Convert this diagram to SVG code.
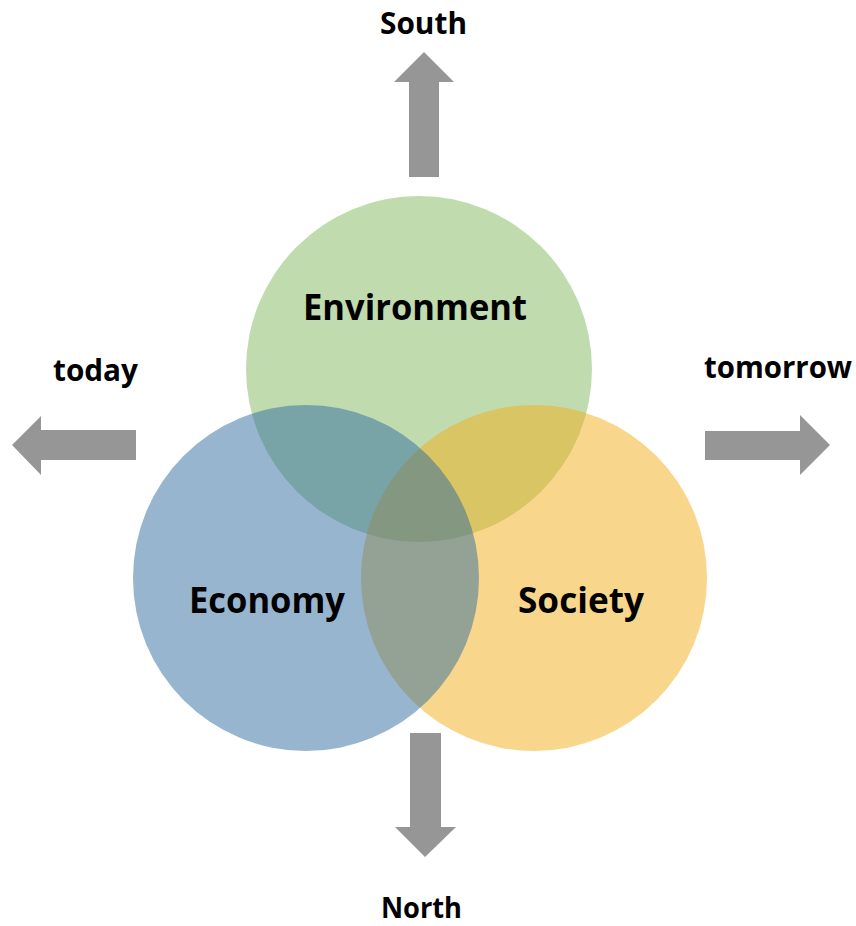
<svg xmlns="http://www.w3.org/2000/svg" width="856" height="926" viewBox="0 0 856 926">
  <style>
    .lbl { font-family: "Open Sans", "Noto Sans", "Liberation Sans", sans-serif; font-weight: 700; fill: #000000; }
    .small { font-size: 30px; }
    .big { font-size: 36px; }
    .arrow { fill: #969696; }
    .circ { fill-opacity: 0.5; }
  </style>
  <rect width="856" height="926" fill="#ffffff"/>
  <g id="connectors">
    <polygon id="arrow-south" class="arrow" points="409,177 409,82 394,82 424,52 454,82 439,82 439,177"/>
    <polygon id="arrow-north" class="arrow" points="410,733 441,733 441,827 456,827 425,857 395,827 410,827"/>
    <polygon id="arrow-today" class="arrow" points="136,430 41,430 41,416 12,445 41,475 41,460 136,460"/>
    <polygon id="arrow-tomorrow" class="arrow" points="705,431 800,431 800,415 830,445 800,475 800,460 705,460"/>
  </g>
  <g id="node-environment">
    <circle class="circ" cx="419" cy="369" r="173" fill="#81b95d"/>
  </g>
  <g id="node-society">
    <circle class="circ" cx="534" cy="578" r="173" fill="#f1ad17"/>
  </g>
  <g id="node-economy">
    <circle class="circ" cx="306" cy="578" r="173" fill="#2f6b9f"/>
  </g>
  <g id="labels">
    <text class="lbl big" x="303" y="320" textLength="224" lengthAdjust="spacingAndGlyphs">Environment</text>
    <text class="lbl big" x="189" y="613" textLength="156" lengthAdjust="spacingAndGlyphs">Economy</text>
    <text class="lbl big" x="518" y="613" textLength="126" lengthAdjust="spacingAndGlyphs">Society</text>
    <text class="lbl small" x="380" y="34" textLength="87" lengthAdjust="spacingAndGlyphs">South</text>
    <text class="lbl" style="font-size:28px" x="381" y="918" textLength="81" lengthAdjust="spacingAndGlyphs">North</text>
    <text class="lbl small" x="53" y="381" textLength="85" lengthAdjust="spacingAndGlyphs">today</text>
    <text class="lbl small" x="704" y="378" textLength="148" lengthAdjust="spacingAndGlyphs">tomorrow</text>
  </g>
</svg>
